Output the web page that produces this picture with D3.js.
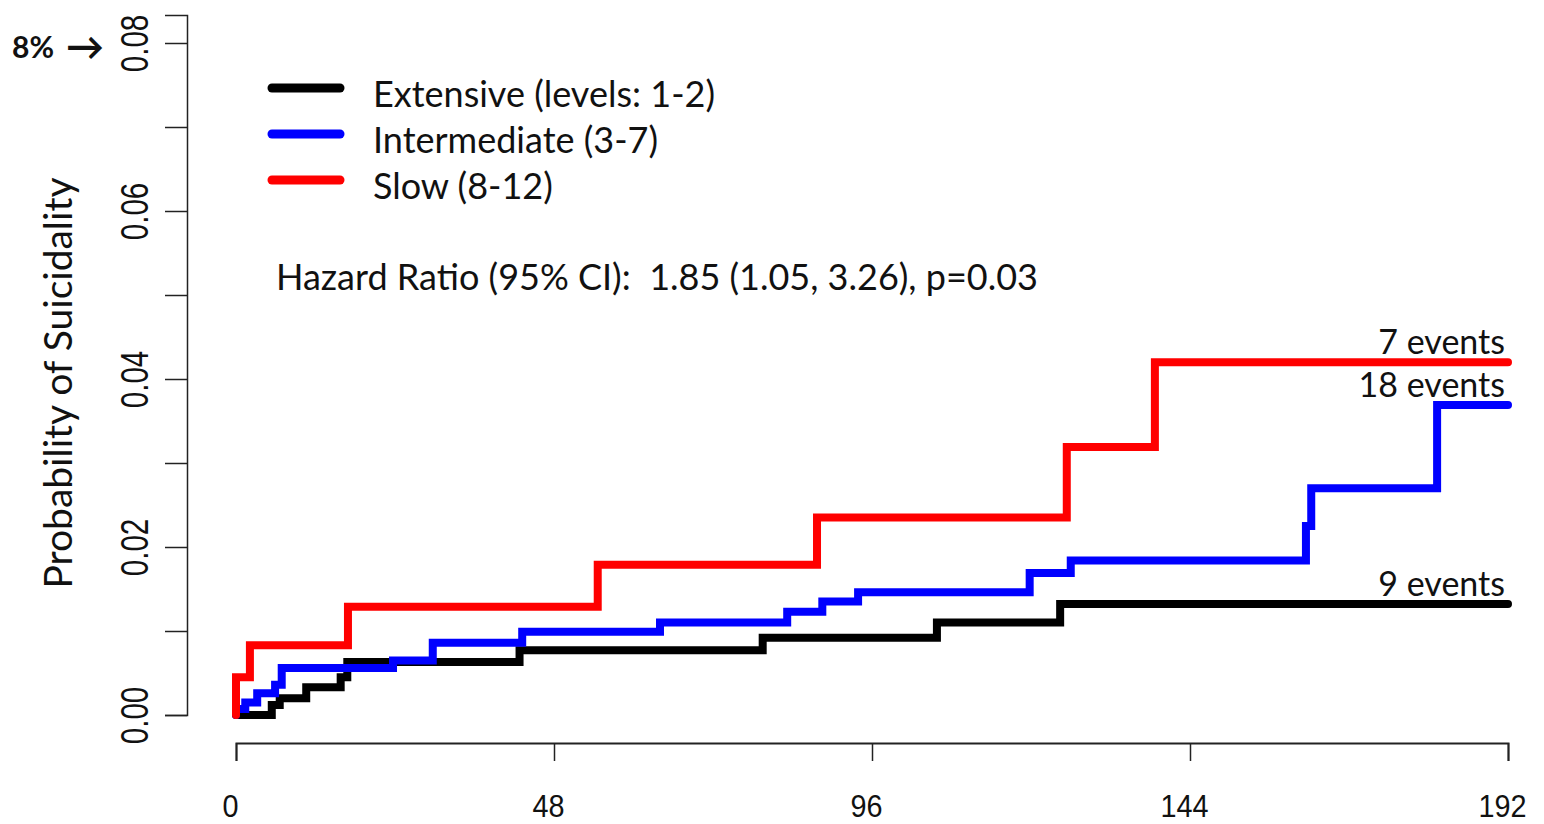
<!DOCTYPE html>
<html>
<head>
<meta charset="utf-8">
<script src="https://cdn.jsdelivr.net/npm/d3@7"></script>
<style>
  body { margin: 0; background: #fff; }
  text { font-family: Lato, "Open Sans", sans-serif; fill: #111; white-space: pre; }
</style>
</head>
<body>
<script>
// Width and height of the page
var w = 1544;
var h = 824;

// Group names and colours
var groups = ["Extensive (levels: 1-2)", "Intermediate (3-7)", "Slow (8-12)"];
var colors = ["#000000", "#0000ff", "#ff0000"];
var eventLabels = ["9 events", "18 events", "7 events"];

// Step times (months) and cumulative probability
var extTimes = [0, 5.4, 6.6, 10.6, 15.8, 16.8, 42.8, 79.5, 105.8, 124.4];
var extProb  = [0, 0.0012, 0.0020, 0.0033, 0.0045, 0.0063, 0.0077, 0.0092, 0.0110, 0.0132];

var intTimes = [0, 0, 1.4, 3.2, 5.9, 6.9, 23.7, 29.7, 43.2, 64.0, 83.2, 88.5, 93.9, 119.8, 126.0, 161.5, 162.3, 181.3];
var intProb  = [0, 0.0007, 0.0015, 0.0026, 0.0036, 0.0056, 0.0065, 0.0086, 0.0099, 0.0110, 0.0123, 0.0135, 0.0146, 0.0169, 0.0184, 0.0225, 0.0270, 0.0369];

var slowTimes = [0, 0, 2.1, 16.9, 54.6, 87.7, 125.4, 138.7];
var slowProb  = [0, 0.0045, 0.0083, 0.0129, 0.0179, 0.0235, 0.0319, 0.0420];

var endTime = 192;

// Axis ticks
var xTicks = [0, 48, 96, 144, 192];
var yTicks = [0, 0.01, 0.02, 0.03, 0.04, 0.05, 0.06, 0.07, 0.08];
var yLabelTicks = [0, 0.02, 0.04, 0.06, 0.08];

var hazardText = "Hazard Ratio (95% CI):  1.85 (1.05, 3.26), p=0.03";

//Scales
var x = d3.scaleLinear().domain([0, 192]).range([236, 1508]);
var y = d3.scaleLinear().domain([0, 700 / 8400]).range([715, 15]);

var svg = d3.select("body").append("svg")
  .attr("width", w)
  .attr("height", h);

svg.append("rect").attr("width", w).attr("height", h).attr("fill", "#fff");

//X axis
var xAxis = svg.append("g")
  .attr("transform", "translate(0,743)")
  .call(d3.axisBottom(x).tickValues(xTicks).tickSizeOuter(0).tickSize(18).tickPadding(0));

xAxis.select(".domain").attr("stroke", "#222").attr("stroke-width", 2);
xAxis.selectAll(".tick line").attr("stroke", "#222").attr("stroke-width", 1.5);
xAxis.selectAll(".tick text")
  .attr("y", 0).attr("dy", 0)
  .attr("transform", "translate(-6,74) scale(0.9,1)")
  .style("font-family", "'Liberation Sans', Arial, sans-serif")
  .style("font-size", "32px")
  .attr("fill", "#111");

//Y axis
var yAxis = svg.append("g")
  .attr("transform", "translate(187,0)")
  .call(d3.axisLeft(y).tickValues(yTicks).tickSizeOuter(0).tickSize(22)
    .tickFormat(function(d) {
      return yLabelTicks.some(function(v) { return Math.abs(v - d) < 1e-9; }) ? d3.format(".2f")(d) : "";
    }));

yAxis.select(".domain").attr("stroke", "#222").attr("stroke-width", 1.5);
yAxis.selectAll(".tick line").attr("stroke", "#222").attr("stroke-width", 1.5);
yAxis.selectAll(".tick text")
  .attr("x", 0).attr("dy", 0)
  .attr("text-anchor", "middle")
  .attr("transform", "translate(-39,0) rotate(-90) scale(0.78,1)")
  .style("font-family", "'Liberation Sans', Arial, sans-serif")
  .style("font-size", "38px")
  .attr("fill", "#111");

//Y axis title
svg.append("text")
  .attr("transform", "translate(72,383) rotate(-90)")
  .attr("text-anchor", "middle")
  .style("font-size", "39px")
  .text("Probability of Suicidality");

//8% marker
svg.append("text")
  .attr("x", 12)
  .attr("y", 58)
  .style("font-size", "30px")
  .style("font-weight", "bold")
  .text("8%");

svg.append("text")
  .attr("x", 66)
  .attr("y", 60)
  .style("font-size", "38px")
  .style("font-weight", "bold")
  .text("\u2192");

//Series
var series = [
  {times: extTimes, probs: extProb},
  {times: intTimes, probs: intProb},
  {times: slowTimes, probs: slowProb}
];

var line = d3.line()
  .x(function(d) { return x(d[0]); })
  .y(function(d) { return y(d[1]); })
  .curve(d3.curveStepAfter);

series.forEach(function(s, i) {
  var pts = s.times.map(function(t, j) { return [t, s.probs[j]]; });
  pts.push([endTime, s.probs[s.probs.length - 1]]);
  svg.append("path")
    .datum(pts)
    .attr("d", line)
    .attr("fill", "none")
    .attr("stroke", colors[i])
    .attr("stroke-width", 8)
    .attr("stroke-linejoin", "miter")
    .attr("stroke-linecap", "round");

  svg.append("text")
    .attr("x", x(endTime) - 3)
    .attr("y", y(s.probs[s.probs.length - 1]) - 8)
    .attr("text-anchor", "end")
    .style("font-size", "34px")
    .text(eventLabels[i]);
});

//Legend
var legend = svg.selectAll("g.legend")
  .data(groups)
  .enter().append("g")
  .attr("class", "legend")
  .attr("transform", function(d, i) { return "translate(0," + (88 + i * 46) + ")"; });

legend.append("line")
  .attr("x1", 272).attr("x2", 340)
  .attr("y1", 0).attr("y2", 0)
  .attr("stroke", function(d, i) { return colors[i]; })
  .attr("stroke-width", 9)
  .attr("stroke-linecap", "round");

legend.append("text")
  .attr("x", 373)
  .attr("y", 19)
  .style("font-size", "36px")
  .text(function(d) { return d; });

//Hazard ratio note
svg.append("text")
  .attr("x", 276)
  .attr("y", 290)
  .style("font-size", "36px")
  .text(hazardText);
</script>
</body>
</html>
